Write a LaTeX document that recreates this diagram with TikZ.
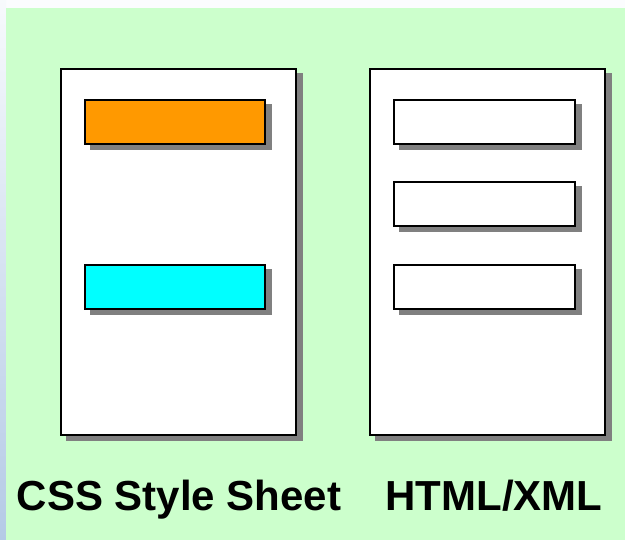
\documentclass[tikz,border=0pt]{standalone}
\usepackage{fontspec}
\setmainfont{Liberation Sans}
\usetikzlibrary{shadows}
\definecolor{bggreen}{HTML}{CCFFCC}
\definecolor{edgeblue}{HTML}{B4CAE6}
\definecolor{boxorange}{HTML}{FF9900}
\definecolor{boxcyan}{HTML}{00FFFF}
\definecolor{shadowgray}{HTML}{808080}
\tikzset{
  px/.style={x=1pt,y=-1pt},
  hardshadow/.style={drop shadow={shadow xshift=5.5pt,shadow yshift=-5.5pt,
    fill=shadowgray,draw=shadowgray,line width=2pt,opacity=1}},
  page/.style={draw=black,line width=2pt,fill=white,hardshadow},
  field/.style={draw=black,line width=2pt,hardshadow},
  caption/.style={font=\bfseries\fontsize{42}{48}\selectfont,text=black,
    inner sep=0pt,anchor=base}
}
\begin{document}
\begin{tikzpicture}[px]
  \useasboundingbox (0,0) rectangle (625,540);
  % backdrop: pale top band, blue edge strip, green panel
  \fill[white!95!edgeblue] (0,0) rectangle (625,8);
  \shade[top color=white!90!edgeblue,bottom color=edgeblue] (0,0) rectangle (6,540);
  \fill[bggreen] (6,8) rectangle (625,540);

  % style sheet page with its two coloured rules
  \path[page] (61,69) rectangle (296,435);
  \path[field,fill=boxorange] (85,100) rectangle (265,144);
  \path[field,fill=boxcyan] (85,265) rectangle (265,309);

  % document page with three elements
  \path[page] (370,69) rectangle (605,435);
  \path[field,fill=white] (394,100) rectangle (575,144);
  \path[field,fill=white] (394,182) rectangle (575,226);
  \path[field,fill=white] (394,265) rectangle (575,309);

  \node[caption] (css) at (179,511) {CSS Style Sheet};
  \node[caption] (html) at (494,511) {HTML/XML};
\end{tikzpicture}
\end{document}
